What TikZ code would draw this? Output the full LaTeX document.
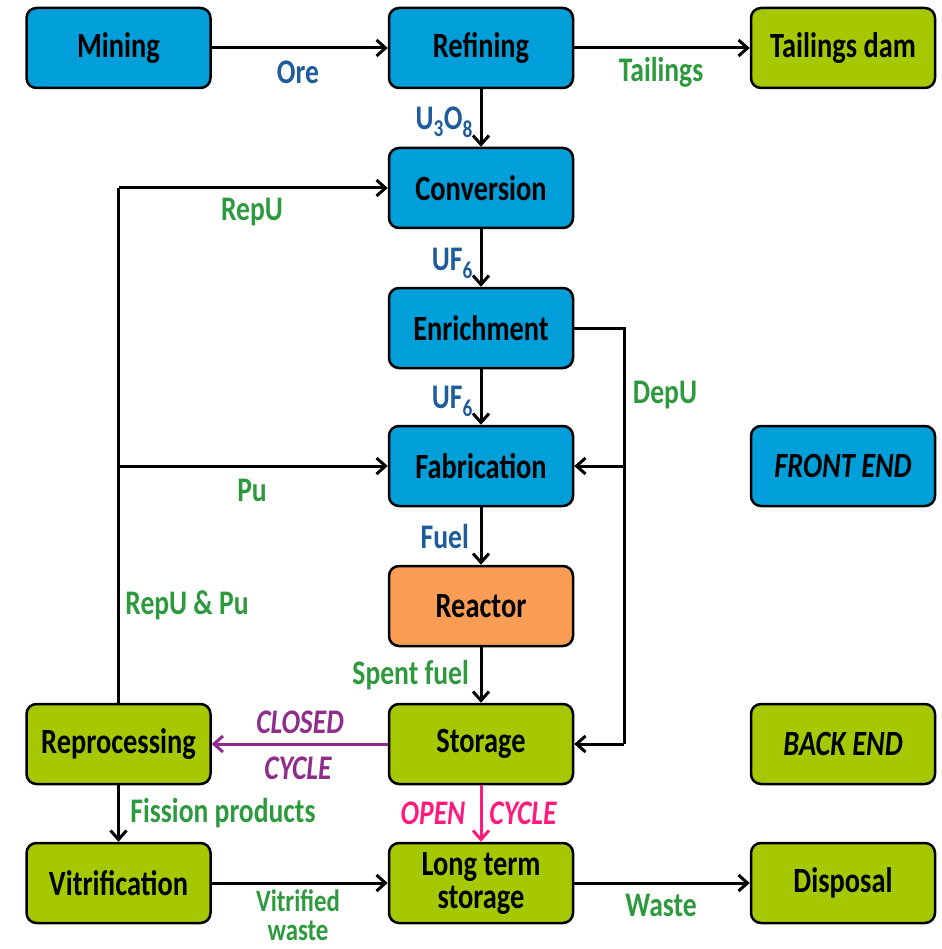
\documentclass[tikz,border=0pt]{standalone}
\usepackage{fontspec}
\setmainfont{Carlito}[FakeStretch=0.8]
\usetikzlibrary{arrows.meta}
\definecolor{bxblue}{HTML}{009FDA}
\definecolor{bxgreen}{HTML}{A5C800}
\definecolor{bxorange}{HTML}{F99D55}
\definecolor{lblblue}{HTML}{1E5C9C}
\definecolor{lblgreen}{HTML}{2E9A3E}
\definecolor{cyclepurple}{HTML}{8E2D8C}
\definecolor{cyclepink}{HTML}{FF1A7D}
\tikzset{
  box/.style={draw=black, line width=2.5pt, rounded corners=10pt, minimum width=184pt, minimum height=80pt,
    align=center, inner sep=2pt, font=\fontsize{35.5}{33}\selectfont\bfseries},
  bluebox/.style={box, fill=bxblue},
  greenbox/.style={box, fill=bxgreen},
  orangebox/.style={box, fill=bxorange},
  flow/.style={line width=3pt, draw=black, -{Straight Barb[length=9pt,width=16pt,line width=3pt]}},
  plain/.style={line width=3pt, draw=black},
  lbl/.style={font=\fontsize{34.5}{31}\selectfont\bfseries, inner sep=0pt, align=center},
  lb/.style={lbl, text=lblblue},
  lg/.style={lbl, text=lblgreen},
  lgsmall/.style={lg, font=\fontsize{31}{30}\selectfont\bfseries},
}
\begin{document}
\begin{tikzpicture}[x=1pt, y=-1pt]
\fill[white] (0,0) rectangle (941,949);
\useasboundingbox (0,0) rectangle (941,949);
% nodes
\node[bluebox] (mining) at (118.5,48) {Mining};
\node[bluebox] (refining) at (481,48) {Refining};
\node[greenbox] (tailings) at (843,48) {Tailings dam};
\node[bluebox] (conversion) at (481,188) {Conversion};
\node[bluebox] (enrichment) at (481,328) {Enrichment};
\node[bluebox] (fabrication) at (481,466) {Fabrication};
\node[bluebox] (frontend) at (843,466) {\itshape FRONT END};
\node[orangebox] (reactor) at (481,606) {Reactor};
\node[greenbox] (storage) at (481,744) {Storage};
\node[greenbox] (reprocessing) at (118.5,744) {Reprocessing};
\node[greenbox] (backend) at (843,744) {\itshape BACK END};
\node[greenbox] (vitrification) at (118.5,883) {Vitrification};
\node[greenbox] (lts) at (481,883) {Long term\\storage};
\node[greenbox] (disposal) at (843,883) {Disposal};
% helper coordinates
\coordinate (depTop) at (624,328);
\coordinate (depFab) at (624,466);
\coordinate (depSto) at (624,744);
\coordinate (leftTop) at (118.5,188);
\coordinate (leftMid) at (118.5,466);
% main chain
\draw[flow] (mining) -- (refining);
\draw[flow] (refining) -- (tailings);
\draw[flow] (refining) -- (conversion);
\draw[flow] (conversion) -- (enrichment);
\draw[flow] (enrichment) -- (fabrication);
\draw[flow] (fabrication) -- (reactor);
\draw[flow] (reactor) -- (storage);
% depleted uranium
\draw[plain] (enrichment.east) -- (depTop) -- (depSto);
\draw[flow] (depFab) -- (fabrication.east);
\draw[flow] (depSto) -- (storage.east);
% recycling line
\draw[plain] (reprocessing.north) -- (leftTop);
\draw[flow] (leftTop) -- (conversion.west);
\draw[flow] (leftMid) -- (fabrication.west);
% cycles
\draw[flow, draw=cyclepurple] (storage.west) -- (reprocessing.east);
\draw[flow, draw=cyclepink] (storage.south) -- (lts.north);
% back end
\draw[flow] (reprocessing) -- (vitrification);
\draw[flow] (vitrification) -- (lts);
\draw[flow] (lts) -- (disposal);
% labels
\node[lb] (lore) at (298,72) {Ore};
\node[lg] (ltail) at (661,72) {Tailings};
\node[lb, anchor=east] (lu3o8) at (473,122) {U\textsubscript{3}O\textsubscript{8}};
\node[lb, anchor=east] (luf6a) at (473,263) {UF\textsubscript{6}};
\node[lb, anchor=east] (luf6b) at (473,401) {UF\textsubscript{6}};
\node[lb, anchor=east] (lfuel) at (469,537) {Fuel};
\node[lg, anchor=east] (lspent) at (469,675) {Spent fuel};
\node[lg] (ldepu) at (665,395) {DepU};
\node[lg] (lrepu) at (252,212) {RepU};
\node[lg] (lpu) at (252,490) {Pu};
\node[lg] (lrepupu) at (187,605) {RepU \& Pu};
\node[lbl, text=cyclepurple] (lclosed) at (300,722) {\itshape CLOSED};
\node[lbl, text=cyclepurple] (lcycle1) at (298,768) {\itshape CYCLE};
\node[lbl, text=cyclepink] (lopen) at (433,813) {\itshape OPEN};
\node[lbl, text=cyclepink] (lcycle2) at (523,813) {\itshape CYCLE};
\node[lg] (lfission) at (223,813) {Fission products};
\node[lgsmall, anchor=base] (lvitw1) at (298,911) {Vitrified};
\node[lgsmall, anchor=base] (lvitw2) at (298,940) {waste};
\node[lg] (lwaste) at (661,905) {Waste};
\end{tikzpicture}
\end{document}
